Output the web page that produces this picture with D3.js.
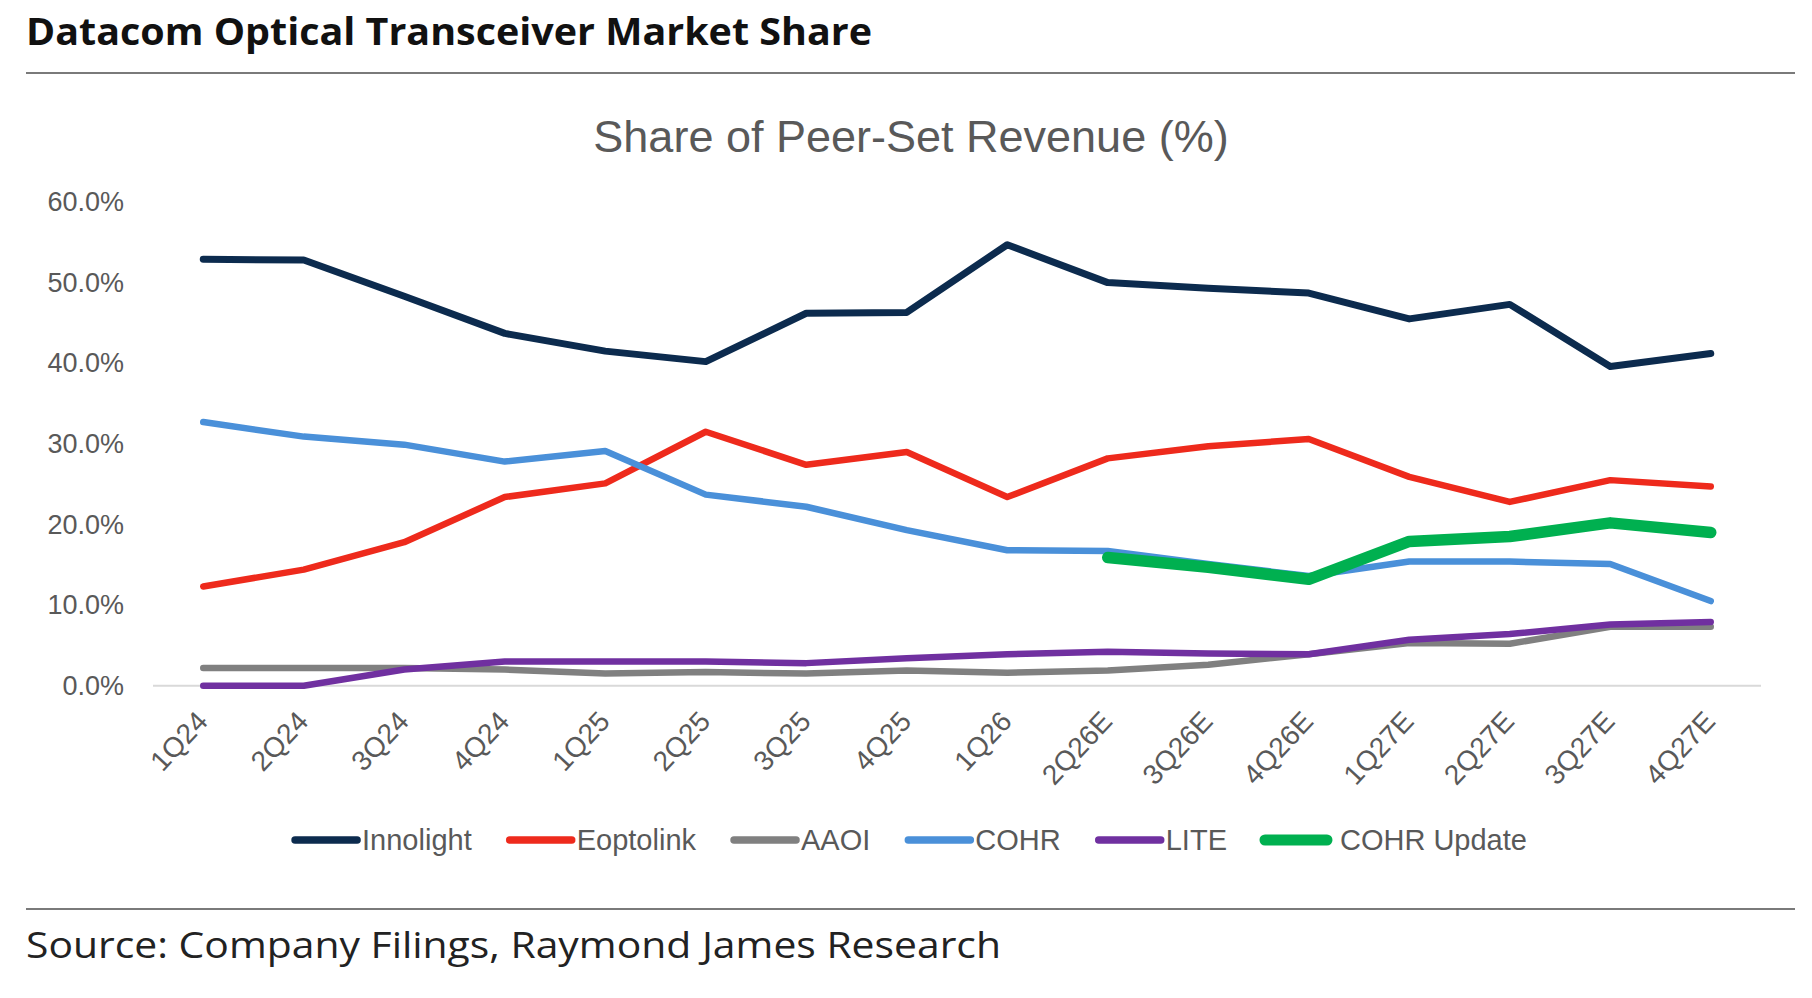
<!DOCTYPE html>
<html>
<head>
<meta charset="utf-8">
<script src="https://cdn.jsdelivr.net/npm/d3@7"></script>
<style>
  html, body { margin: 0; padding: 0; background: #fff; }
  #container { width: 1812px; height: 998px; }
</style>
</head>
<body>
<div id="container"></div>
<script>
// quarters on the x axis
const quarters = ["1Q24", "2Q24", "3Q24", "4Q24", "1Q25", "2Q25", "3Q25", "4Q25",
    "1Q26", "2Q26E", "3Q26E", "4Q26E", "1Q27E", "2Q27E", "3Q27E", "4Q27E"];

// share of peer-set revenue, %
const innolight = [52.9, 52.8, 48.3, 43.7, 41.5, 40.2, 46.2, 46.3, 54.7, 50.0, 49.3, 48.7, 45.5, 47.3, 39.6, 41.2];
const eoptolink = [12.3, 14.4, 17.8, 23.4, 25.1, 31.5, 27.4, 29.0, 23.4, 28.2, 29.7, 30.6, 25.9, 22.8, 25.5, 24.7];
const aaoi      = [2.2, 2.2, 2.2, 2.0, 1.5, 1.7, 1.5, 1.9, 1.6, 1.9, 2.6, 3.9, 5.3, 5.2, 7.3, 7.3];
const cohr      = [32.7, 30.9, 29.9, 27.8, 29.1, 23.7, 22.2, 19.3, 16.8, 16.7, 15.1, 13.6, 15.4, 15.4, 15.1, 10.5];
const lite      = [0.0, 0.0, 2.0, 3.0, 3.0, 3.0, 2.8, 3.4, 3.9, 4.2, 4.0, 3.9, 5.7, 6.4, 7.6, 7.9];
const cohrUpdate = [null, null, null, null, null, null, null, null, null, 15.9, 14.7, 13.2, 17.9, 18.5, 20.2, 19.0];

const yTicks = [0, 10, 20, 30, 40, 50, 60];

const seriesNames = ["Innolight", "Eoptolink", "AAOI", "COHR", "LITE", "COHR Update"];
const seriesValues = [innolight, eoptolink, aaoi, cohr, lite, cohrUpdate];
const seriesColors = ["#0c2b4e", "#ee2a1c", "#808080", "#4a90d9", "#7030a0", "#00b050"];
const seriesWidths = [7, 6.5, 6.5, 6.5, 6.5, 11.5];

const W = 1812, H = 998;
const svg = d3.select("#container").append("svg")
    .attr("width", W).attr("height", H)
    .attr("viewBox", `0 0 ${W} ${H}`);

// header + rules
svg.append("text").attr("x", 26).attr("y", 45)
    .attr("font-family", "'Open Sans', 'Noto Sans', sans-serif").attr("font-weight", 700)
    .attr("font-size", 37).attr("fill", "#111")
    .attr("textLength", 846).attr("lengthAdjust", "spacingAndGlyphs")
    .text("Datacom Optical Transceiver Market Share");
svg.append("line").attr("x1", 26).attr("x2", 1795).attr("y1", 73).attr("y2", 73)
    .attr("stroke", "#7a7a7a").attr("stroke-width", 2);

svg.append("line").attr("x1", 26).attr("x2", 1795).attr("y1", 909).attr("y2", 909)
    .attr("stroke", "#7a7a7a").attr("stroke-width", 2);
svg.append("text").attr("x", 26).attr("y", 958)
    .attr("font-family", "'Open Sans', 'Noto Sans', sans-serif")
    .attr("font-size", 36).attr("fill", "#222")
    .attr("textLength", 975).attr("lengthAdjust", "spacingAndGlyphs")
    .text("Source: Company Filings, Raymond James Research");

const font = "'Liberation Sans', Arial, sans-serif";

// chart title
svg.append("text").attr("x", 911).attr("y", 152).attr("text-anchor", "middle")
    .attr("font-family", font).attr("font-size", 45).attr("fill", "#595959")
    .text("Share of Peer-Set Revenue (%)");

// scales
const x = d3.scaleBand().domain(quarters).range([153, 1761]).padding(0);
const y = d3.scaleLinear().domain([0, 60]).range([685.7, 202]);
const cx = d => x(d) + x.bandwidth() / 2;

// y axis labels
const yAxis = svg.append("g").attr("transform", "translate(153,0)")
    .call(d3.axisLeft(y).tickValues(yTicks).tickSize(0).tickPadding(29)
        .tickFormat(d => d.toFixed(1) + "%"));
yAxis.select(".domain").remove();
yAxis.selectAll("text").attr("font-family", font).attr("font-size", 27).attr("fill", "#595959");

// baseline
svg.append("line").attr("x1", 153).attr("x2", 1761).attr("y1", y(0)).attr("y2", y(0))
    .attr("stroke", "#d9d9d9").attr("stroke-width", 2);

// x axis labels, rotated
const xAxis = svg.append("g").attr("transform", `translate(0,${y(0)})`)
    .call(d3.axisBottom(x).tickSize(0).tickPadding(0));
xAxis.select(".domain").remove();
xAxis.selectAll("text")
    .attr("font-family", font).attr("font-size", 28).attr("fill", "#595959")
    .attr("text-anchor", "end").attr("dy", 0)
    .attr("transform", "translate(6,37) rotate(-47)");

// lines
const line = d3.line()
    .defined(d => d.v !== null)
    .x(d => cx(d.q)).y(d => y(d.v));

seriesNames.forEach((name, i) => {
    const pts = quarters.map((q, j) => ({ q: q, v: seriesValues[i][j] }));
    svg.append("path").datum(pts)
        .attr("d", line)
        .attr("fill", "none")
        .attr("stroke", seriesColors[i])
        .attr("stroke-width", seriesWidths[i])
        .attr("stroke-linejoin", "round")
        .attr("stroke-linecap", "round");
});

// legend, centered under the plot
const legend = svg.append("g");
const markLen = 62, markGap = 5, itemGap = 38;
let cursor = 0;
seriesNames.forEach((name, i) => {
    const g = legend.append("g").attr("transform", `translate(${cursor},0)`);
    g.append("line").attr("x1", 0).attr("x2", markLen).attr("y1", 0).attr("y2", 0)
        .attr("stroke", seriesColors[i]).attr("stroke-width", i === 5 ? 11 : 7.5)
        .attr("stroke-linecap", "round");
    const t = g.append("text").attr("x", markLen + markGap + (i === 5 ? 8 : 0)).attr("y", 0)
        .attr("dy", "0.35em")
        .attr("font-family", font).attr("font-size", 29).attr("fill", "#595959")
        .text(name);
    cursor += markLen + markGap + (i === 5 ? 8 : 0) + t.node().getComputedTextLength() + itemGap;
});
const legendW = cursor - itemGap;
legend.attr("transform", `translate(${911 - legendW / 2},840)`);
</script>
</body>
</html>
